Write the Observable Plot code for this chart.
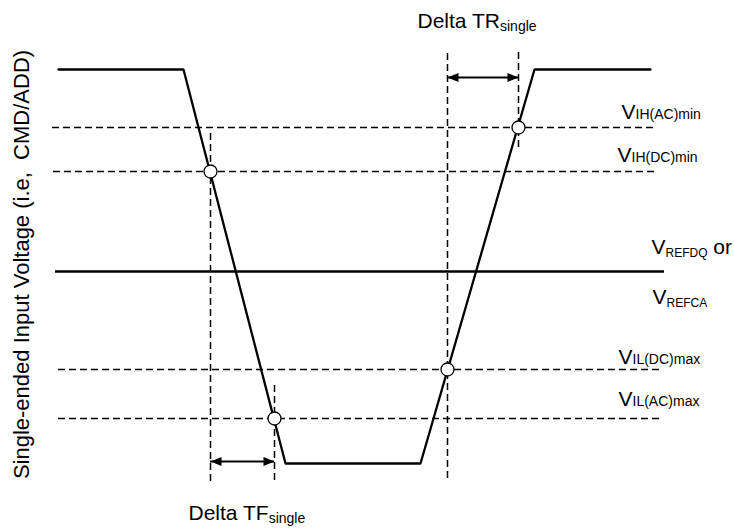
<!DOCTYPE html>
<html>
<head>
<meta charset="utf-8">
<script src="https://cdn.jsdelivr.net/npm/d3@7"></script>
<script src="https://cdn.jsdelivr.net/npm/@observablehq/plot@0.6"></script>
<style>
  html, body { margin: 0; padding: 0; background: #fff; }
  #chart svg { display: block; }
</style>
</head>
<body>
<div id="chart"></div>
<script>
// ---- Data (time t, level v; v grows downward) ----
const signalT = [58, 183, 285, 420, 534, 650];
const signalV = [69, 69, 463, 463, 69, 69];

const levelNames = ["VIH(AC)min", "VIH(DC)min", "VREF", "VIL(DC)max", "VIL(AC)max"];
const levelV     = [127, 171, 271, 369, 418];
const levelFrom  = [52, 53, 55, 58, 58];
const levelTo    = [657, 655, 664, 662, 662];
const levelDashed = [true, true, false, true, true];

const crossT = [210, 274, 447, 518];
const crossV = [171, 418, 369, 127];

const markerT    = [210, 274, 447, 518];
const markerFrom = [133, 385, 53, 52];
const markerTo   = [482, 482, 478, 148];

const arrowFrom = [447, 210];
const arrowTo   = [518, 274];
const arrowV    = [77, 461];

const labelText = ["V_{IH(AC)min}", "V_{IH(DC)min}", "V_{REFDQ} or", "V_{REFCA}",
                   "V_{IL(DC)max}", "V_{IL(AC)max}", "Delta TR_{single}", "Delta TF_{single}"];
const labelT = [621, 617, 651, 652, 618, 618, 417, 188];
const labelV = [118, 161, 253, 303, 363, 405, 27, 519];

const yTitle = "Single-ended Input Voltage (i.e,  CMD/ADD)";
const yTitleT = 21, yTitleV = 264;

// ---- Tables ----
const signal = signalT.map((t, i) => ({t, v: signalV[i]}));
const levels = levelNames.map((n, i) => ({name: n, v: levelV[i], x1: levelFrom[i], x2: levelTo[i], dashed: levelDashed[i]}));
const crosses = crossT.map((t, i) => ({t, v: crossV[i]}));
const markers = markerT.map((t, i) => ({t, y1: markerFrom[i], y2: markerTo[i]}));
const arrows = arrowFrom.map((a, i) => ({x1: a, x2: arrowTo[i], v: arrowV[i]}));
const heads = arrows.flatMap(a => [{t: a.x1, v: a.v, rot: 180}, {t: a.x2, v: a.v, rot: 0}]);
const labels = labelText.map((s, i) => ({s, t: labelT[i], v: labelV[i]}));

const headSymbol = {
  draw(ctx) {
    ctx.moveTo(0, 0);
    ctx.lineTo(-11, -4.5);
    ctx.lineTo(-11, 4.5);
    ctx.closePath();
  }
};

const fontFamily = "'Liberation Sans', Arial, Helvetica, sans-serif";

const plot = Plot.plot({
  width: 734,
  height: 530,
  margin: 0,
  x: {domain: [0, 734], range: [0, 734], axis: null},
  y: {domain: [0, 530], range: [0, 530], axis: null},
  style: {fontFamily, background: "white", color: "black"},
  marks: [
    Plot.ruleY(levels.filter(d => d.dashed), {y: "v", x1: "x1", x2: "x2", stroke: "black", strokeWidth: 1.5, strokeDasharray: "7,4"}),
    Plot.ruleX(markers, {x: "t", y1: "y1", y2: "y2", stroke: "black", strokeWidth: 1.5, strokeDasharray: "7,4"}),
    Plot.ruleY(levels.filter(d => !d.dashed), {y: "v", x1: "x1", x2: "x2", stroke: "black", strokeWidth: 2.3}),
    Plot.line(signal, {x: "t", y: "v", stroke: "black", strokeWidth: 2.3, strokeLinejoin: "miter"}),
    Plot.dot(crosses, {x: "t", y: "v", r: 6.5, fill: "white", stroke: "black", strokeWidth: 1.3}),
    Plot.ruleY(arrows, {y: "v", x1: "x1", x2: "x2", stroke: "black", strokeWidth: 2}),
    Plot.dot(heads, {x: "t", y: "v", symbol: headSymbol, rotate: "rot", r: 5, fill: "black", stroke: "none"}),
    Plot.text(labels, {x: "t", y: "v", text: "s", textAnchor: "start", lineAnchor: "bottom", fontSize: 21, fill: "black"}),
    Plot.text([{t: yTitleT, v: yTitleV}], {x: "t", y: "v", text: () => yTitle, rotate: -90, textAnchor: "middle", lineAnchor: "middle", fontSize: 22, fill: "black"})
  ]
});

// keep the double space of the axis title
plot.querySelectorAll("text").forEach(el => { el.style.whiteSpace = "pre"; });

// subscripts: turn "_{...}" into smaller, lowered tspans
const NS = "http://www.w3.org/2000/svg";
plot.querySelectorAll("text").forEach(el => {
  const s = el.textContent;
  if (!s.includes("_{")) return;
  while (el.firstChild) el.removeChild(el.firstChild);
  const parts = s.split(/(_\{[^}]*\})/).filter(p => p.length);
  let shifted = 0;
  for (const p of parts) {
    const ts = document.createElementNS(NS, "tspan");
    if (p.startsWith("_{")) {
      const sub = p.slice(2, -1);
      const sh = /REF|single/.test(sub) ? 3 : 0.5;
      ts.setAttribute("font-size", /REF/.test(sub) ? 12 : 14);
      ts.setAttribute("dy", sh - shifted);
      shifted = sh;
      ts.textContent = sub;
    } else {
      if (shifted) ts.setAttribute("dy", -shifted);
      shifted = 0;
      ts.textContent = p;
    }
    el.appendChild(ts);
  }
});

document.getElementById("chart").appendChild(plot);
</script>
</body>
</html>
